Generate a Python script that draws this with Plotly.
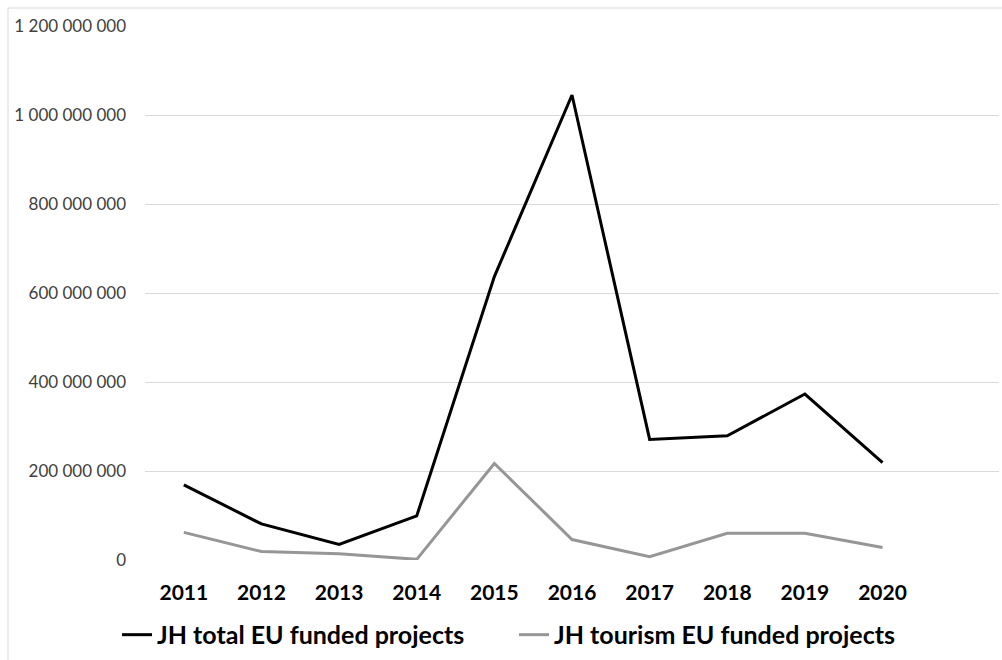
import plotly.graph_objects as go

years = ["2011", "2012", "2013", "2014", "2015", "2016", "2017", "2018", "2019", "2020"]
total_eu = [169e6, 81e6, 35e6, 99e6, 637e6, 1045e6, 271e6, 279e6, 373e6, 219e6]
tourism_eu = [62e6, 19e6, 14e6, 1.5e6, 217e6, 46e6, 7.5e6, 60e6, 60e6, 28e6]
y_ticks = [0, 200e6, 400e6, 600e6, 800e6, 1000e6, 1200e6]

FONT = "Lato"

fig = go.Figure()
fig.add_trace(go.Scatter(x=years, y=total_eu, mode="lines", name="JH total EU funded projects",
                         line=dict(color="#000000", width=3)))
fig.add_trace(go.Scatter(x=years, y=tourism_eu, mode="lines", name="JH tourism EU funded projects",
                         line=dict(color="#969696", width=3)))

fig.update_layout(
    width=1002, height=660,
    margin=dict(l=145, r=3, t=26, b=100, autoexpand=False),
    paper_bgcolor="white", plot_bgcolor="white",
    separators=". ",
    font=dict(family=FONT, color="#000000"),
    showlegend=True,
    legend=dict(orientation="h", xref="container", yref="container", x=0.1168, y=0.038,
                xanchor="left", yanchor="middle",
                font=dict(family=FONT, size=25, weight="bold", color="#000000"),
                entrywidth=352, entrywidthmode="pixels", itemwidth=30,
                bgcolor="rgba(0,0,0,0)"),
    xaxis=dict(type="category", categoryorder="array", categoryarray=years,
               range=[-0.5, 10.5], showgrid=False, zeroline=False, showline=False,
               ticks="", ticklabelstandoff=18,
               tickfont=dict(family=FONT, size=21, weight="bold", color="#000000")),
    yaxis=dict(range=[0, 1.2e9], tickvals=y_ticks, tickformat=",d",
               showgrid=True, gridcolor="#d9d9d9", gridwidth=1, zeroline=False,
               showline=False, ticks="", ticklabelstandoff=18,
               tickfont=dict(family=FONT, size=17, color="#404040")),
)
# chart outer border (top and left), in paper coordinates of plot area
pa_h = 534
pa_w = 854
fig.add_shape(type="line", xref="paper", yref="paper",
              x0=(8 - 145) / pa_w, x1=(1002 - 145) / pa_w,
              y0=(560 - 8) / pa_h, y1=(560 - 8) / pa_h,
              line=dict(color="#d9d9d9", width=1))
fig.add_shape(type="line", xref="paper", yref="paper",
              x0=(8 - 145) / pa_w, x1=(8 - 145) / pa_w,
              y0=(560 - 8) / pa_h, y1=(560 - 660) / pa_h,
              line=dict(color="#d9d9d9", width=1))

fig.write_html("out.html")
